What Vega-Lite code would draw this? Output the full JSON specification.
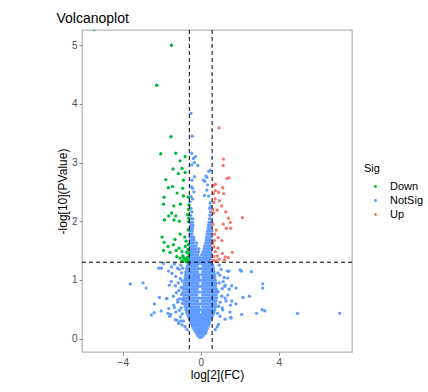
{
"$schema":"https://vega.github.io/schema/vega-lite/v6.json",
"width":270,"height":322,
"autosize":{"type":"none"},
"padding":{"left":82,"top":30,"right":76,"bottom":40},
"title":{"text":"Volcanoplot","anchor":"start","fontSize":14,"fontWeight":"normal","font":"Liberation Sans","color":"#000000","offset":4},
"config":{"view":{"stroke":"#b5b5b5","strokeWidth":1.3},"font":"Liberation Sans"},
"datasets":{
"pts":[
{"x":-0.06,"y":0.02,"Sig":"NotSig"},{"x":0.04,"y":0.02,"Sig":"NotSig"},
{"x":-0.15,"y":0.05,"Sig":"NotSig"},{"x":-0.05,"y":0.05,"Sig":"NotSig"},{"x":0.05,"y":0.05,"Sig":"NotSig"},{"x":0.14,"y":0.05,"Sig":"NotSig"},
{"x":-0.22,"y":0.09,"Sig":"NotSig"},{"x":-0.12,"y":0.09,"Sig":"NotSig"},{"x":-0.02,"y":0.09,"Sig":"NotSig"},{"x":0.08,"y":0.09,"Sig":"NotSig"},{"x":0.18,"y":0.09,"Sig":"NotSig"},{"x":0.25,"y":0.09,"Sig":"NotSig"},
{"x":-0.3,"y":0.13,"Sig":"NotSig"},{"x":-0.2,"y":0.13,"Sig":"NotSig"},{"x":-0.1,"y":0.13,"Sig":"NotSig"},{"x":0.0,"y":0.13,"Sig":"NotSig"},{"x":0.1,"y":0.13,"Sig":"NotSig"},{"x":0.2,"y":0.13,"Sig":"NotSig"},{"x":0.29,"y":0.13,"Sig":"NotSig"},
{"x":-0.36,"y":0.17,"Sig":"NotSig"},{"x":-0.26,"y":0.17,"Sig":"NotSig"},{"x":-0.16,"y":0.17,"Sig":"NotSig"},{"x":-0.06,"y":0.17,"Sig":"NotSig"},{"x":0.04,"y":0.17,"Sig":"NotSig"},{"x":0.14,"y":0.17,"Sig":"NotSig"},{"x":0.24,"y":0.17,"Sig":"NotSig"},{"x":0.34,"y":0.17,"Sig":"NotSig"},
{"x":-0.42,"y":0.21,"Sig":"NotSig"},{"x":-0.32,"y":0.21,"Sig":"NotSig"},{"x":-0.22,"y":0.21,"Sig":"NotSig"},{"x":-0.12,"y":0.21,"Sig":"NotSig"},{"x":-0.02,"y":0.21,"Sig":"NotSig"},{"x":0.08,"y":0.21,"Sig":"NotSig"},{"x":0.18,"y":0.21,"Sig":"NotSig"},{"x":0.28,"y":0.21,"Sig":"NotSig"},{"x":0.38,"y":0.21,"Sig":"NotSig"},
{"x":-0.48,"y":0.25,"Sig":"NotSig"},{"x":-0.38,"y":0.25,"Sig":"NotSig"},{"x":-0.28,"y":0.25,"Sig":"NotSig"},{"x":-0.18,"y":0.25,"Sig":"NotSig"},{"x":-0.08,"y":0.25,"Sig":"NotSig"},{"x":0.02,"y":0.25,"Sig":"NotSig"},{"x":0.12,"y":0.25,"Sig":"NotSig"},{"x":0.22,"y":0.25,"Sig":"NotSig"},{"x":0.32,"y":0.25,"Sig":"NotSig"},{"x":0.42,"y":0.25,"Sig":"NotSig"},
{"x":-0.52,"y":0.29,"Sig":"NotSig"},{"x":-0.42,"y":0.29,"Sig":"NotSig"},{"x":-0.32,"y":0.29,"Sig":"NotSig"},{"x":-0.22,"y":0.29,"Sig":"NotSig"},{"x":-0.12,"y":0.29,"Sig":"NotSig"},{"x":-0.03,"y":0.29,"Sig":"NotSig"},{"x":0.07,"y":0.29,"Sig":"NotSig"},{"x":0.17,"y":0.29,"Sig":"NotSig"},{"x":0.27,"y":0.29,"Sig":"NotSig"},{"x":0.37,"y":0.29,"Sig":"NotSig"},{"x":0.47,"y":0.29,"Sig":"NotSig"},
{"x":-0.58,"y":0.33,"Sig":"NotSig"},{"x":-0.48,"y":0.33,"Sig":"NotSig"},{"x":-0.38,"y":0.33,"Sig":"NotSig"},{"x":-0.28,"y":0.33,"Sig":"NotSig"},{"x":-0.18,"y":0.33,"Sig":"NotSig"},{"x":-0.08,"y":0.33,"Sig":"NotSig"},{"x":0.02,"y":0.33,"Sig":"NotSig"},{"x":0.12,"y":0.33,"Sig":"NotSig"},{"x":0.22,"y":0.33,"Sig":"NotSig"},{"x":0.32,"y":0.33,"Sig":"NotSig"},{"x":0.42,"y":0.33,"Sig":"NotSig"},{"x":0.52,"y":0.33,"Sig":"NotSig"},
{"x":-0.62,"y":0.37,"Sig":"NotSig"},{"x":-0.52,"y":0.37,"Sig":"NotSig"},{"x":-0.42,"y":0.37,"Sig":"NotSig"},{"x":-0.32,"y":0.37,"Sig":"NotSig"},{"x":-0.22,"y":0.37,"Sig":"NotSig"},{"x":-0.12,"y":0.37,"Sig":"NotSig"},{"x":-0.02,"y":0.37,"Sig":"NotSig"},{"x":0.08,"y":0.37,"Sig":"NotSig"},{"x":0.18,"y":0.37,"Sig":"NotSig"},{"x":0.28,"y":0.37,"Sig":"NotSig"},{"x":0.38,"y":0.37,"Sig":"NotSig"},{"x":0.48,"y":0.37,"Sig":"NotSig"},{"x":0.57,"y":0.37,"Sig":"NotSig"},
{"x":-0.68,"y":0.41,"Sig":"NotSig"},{"x":-0.57,"y":0.41,"Sig":"NotSig"},{"x":-0.47,"y":0.41,"Sig":"NotSig"},{"x":-0.37,"y":0.41,"Sig":"NotSig"},{"x":-0.27,"y":0.41,"Sig":"NotSig"},{"x":-0.17,"y":0.41,"Sig":"NotSig"},{"x":-0.07,"y":0.41,"Sig":"NotSig"},{"x":0.05,"y":0.41,"Sig":"NotSig"},{"x":0.15,"y":0.41,"Sig":"NotSig"},{"x":0.25,"y":0.41,"Sig":"NotSig"},{"x":0.35,"y":0.41,"Sig":"NotSig"},{"x":0.45,"y":0.41,"Sig":"NotSig"},{"x":0.55,"y":0.41,"Sig":"NotSig"},{"x":0.63,"y":0.41,"Sig":"NotSig"},
{"x":-0.72,"y":0.45,"Sig":"NotSig"},{"x":-0.62,"y":0.45,"Sig":"NotSig"},{"x":-0.52,"y":0.45,"Sig":"NotSig"},{"x":-0.42,"y":0.45,"Sig":"NotSig"},{"x":-0.32,"y":0.45,"Sig":"NotSig"},{"x":-0.22,"y":0.45,"Sig":"NotSig"},{"x":-0.12,"y":0.45,"Sig":"NotSig"},{"x":0.1,"y":0.45,"Sig":"NotSig"},{"x":0.2,"y":0.45,"Sig":"NotSig"},{"x":0.3,"y":0.45,"Sig":"NotSig"},{"x":0.4,"y":0.45,"Sig":"NotSig"},{"x":0.5,"y":0.45,"Sig":"NotSig"},{"x":0.6,"y":0.45,"Sig":"NotSig"},{"x":0.68,"y":0.45,"Sig":"NotSig"},
{"x":-0.76,"y":0.49,"Sig":"NotSig"},{"x":-0.66,"y":0.49,"Sig":"NotSig"},{"x":-0.56,"y":0.49,"Sig":"NotSig"},{"x":-0.46,"y":0.49,"Sig":"NotSig"},{"x":-0.36,"y":0.49,"Sig":"NotSig"},{"x":-0.26,"y":0.49,"Sig":"NotSig"},{"x":-0.16,"y":0.49,"Sig":"NotSig"},{"x":-0.06,"y":0.49,"Sig":"NotSig"},{"x":0.04,"y":0.49,"Sig":"NotSig"},{"x":0.14,"y":0.49,"Sig":"NotSig"},{"x":0.24,"y":0.49,"Sig":"NotSig"},{"x":0.34,"y":0.49,"Sig":"NotSig"},{"x":0.44,"y":0.49,"Sig":"NotSig"},{"x":0.54,"y":0.49,"Sig":"NotSig"},{"x":0.64,"y":0.49,"Sig":"NotSig"},{"x":0.72,"y":0.49,"Sig":"NotSig"},
{"x":-0.8,"y":0.54,"Sig":"NotSig"},{"x":-0.7,"y":0.54,"Sig":"NotSig"},{"x":-0.6,"y":0.54,"Sig":"NotSig"},{"x":-0.5,"y":0.54,"Sig":"NotSig"},{"x":-0.4,"y":0.54,"Sig":"NotSig"},{"x":-0.3,"y":0.54,"Sig":"NotSig"},{"x":-0.2,"y":0.54,"Sig":"NotSig"},{"x":-0.1,"y":0.54,"Sig":"NotSig"},{"x":0.1,"y":0.54,"Sig":"NotSig"},{"x":0.2,"y":0.54,"Sig":"NotSig"},{"x":0.3,"y":0.54,"Sig":"NotSig"},{"x":0.4,"y":0.54,"Sig":"NotSig"},{"x":0.5,"y":0.54,"Sig":"NotSig"},{"x":0.6,"y":0.54,"Sig":"NotSig"},{"x":0.7,"y":0.54,"Sig":"NotSig"},{"x":0.77,"y":0.54,"Sig":"NotSig"},
{"x":-0.84,"y":0.59,"Sig":"NotSig"},{"x":-0.74,"y":0.59,"Sig":"NotSig"},{"x":-0.64,"y":0.59,"Sig":"NotSig"},{"x":-0.54,"y":0.59,"Sig":"NotSig"},{"x":-0.44,"y":0.59,"Sig":"NotSig"},{"x":-0.34,"y":0.59,"Sig":"NotSig"},{"x":-0.24,"y":0.59,"Sig":"NotSig"},{"x":-0.14,"y":0.59,"Sig":"NotSig"},{"x":-0.04,"y":0.59,"Sig":"NotSig"},{"x":0.06,"y":0.59,"Sig":"NotSig"},{"x":0.16,"y":0.59,"Sig":"NotSig"},{"x":0.26,"y":0.59,"Sig":"NotSig"},{"x":0.36,"y":0.59,"Sig":"NotSig"},{"x":0.46,"y":0.59,"Sig":"NotSig"},{"x":0.56,"y":0.59,"Sig":"NotSig"},{"x":0.66,"y":0.59,"Sig":"NotSig"},{"x":0.76,"y":0.59,"Sig":"NotSig"},
{"x":-0.86,"y":0.64,"Sig":"NotSig"},{"x":-0.76,"y":0.64,"Sig":"NotSig"},{"x":-0.66,"y":0.64,"Sig":"NotSig"},{"x":-0.56,"y":0.64,"Sig":"NotSig"},{"x":-0.46,"y":0.64,"Sig":"NotSig"},{"x":-0.36,"y":0.64,"Sig":"NotSig"},{"x":-0.26,"y":0.64,"Sig":"NotSig"},{"x":-0.16,"y":0.64,"Sig":"NotSig"},{"x":0.08,"y":0.64,"Sig":"NotSig"},{"x":0.18,"y":0.64,"Sig":"NotSig"},{"x":0.28,"y":0.64,"Sig":"NotSig"},{"x":0.38,"y":0.64,"Sig":"NotSig"},{"x":0.48,"y":0.64,"Sig":"NotSig"},{"x":0.58,"y":0.64,"Sig":"NotSig"},{"x":0.68,"y":0.64,"Sig":"NotSig"},{"x":0.78,"y":0.64,"Sig":"NotSig"},
{"x":-0.88,"y":0.69,"Sig":"NotSig"},{"x":-0.78,"y":0.69,"Sig":"NotSig"},{"x":-0.68,"y":0.69,"Sig":"NotSig"},{"x":-0.58,"y":0.69,"Sig":"NotSig"},{"x":-0.48,"y":0.69,"Sig":"NotSig"},{"x":-0.38,"y":0.69,"Sig":"NotSig"},{"x":-0.28,"y":0.69,"Sig":"NotSig"},{"x":-0.18,"y":0.69,"Sig":"NotSig"},{"x":-0.08,"y":0.69,"Sig":"NotSig"},{"x":0.03,"y":0.69,"Sig":"NotSig"},{"x":0.13,"y":0.69,"Sig":"NotSig"},{"x":0.23,"y":0.69,"Sig":"NotSig"},{"x":0.33,"y":0.69,"Sig":"NotSig"},{"x":0.43,"y":0.69,"Sig":"NotSig"},{"x":0.53,"y":0.69,"Sig":"NotSig"},{"x":0.63,"y":0.69,"Sig":"NotSig"},{"x":0.73,"y":0.69,"Sig":"NotSig"},{"x":0.82,"y":0.69,"Sig":"NotSig"},
{"x":-0.9,"y":0.74,"Sig":"NotSig"},{"x":-0.8,"y":0.74,"Sig":"NotSig"},{"x":-0.7,"y":0.74,"Sig":"NotSig"},{"x":-0.6,"y":0.74,"Sig":"NotSig"},{"x":-0.5,"y":0.74,"Sig":"NotSig"},{"x":-0.4,"y":0.74,"Sig":"NotSig"},{"x":-0.3,"y":0.74,"Sig":"NotSig"},{"x":-0.2,"y":0.74,"Sig":"NotSig"},{"x":0.1,"y":0.74,"Sig":"NotSig"},{"x":0.2,"y":0.74,"Sig":"NotSig"},{"x":0.3,"y":0.74,"Sig":"NotSig"},{"x":0.4,"y":0.74,"Sig":"NotSig"},{"x":0.5,"y":0.74,"Sig":"NotSig"},{"x":0.6,"y":0.74,"Sig":"NotSig"},{"x":0.7,"y":0.74,"Sig":"NotSig"},{"x":0.8,"y":0.74,"Sig":"NotSig"},
{"x":-0.9,"y":0.79,"Sig":"NotSig"},{"x":-0.8,"y":0.79,"Sig":"NotSig"},{"x":-0.7,"y":0.79,"Sig":"NotSig"},{"x":-0.6,"y":0.79,"Sig":"NotSig"},{"x":-0.5,"y":0.79,"Sig":"NotSig"},{"x":-0.4,"y":0.79,"Sig":"NotSig"},{"x":-0.3,"y":0.79,"Sig":"NotSig"},{"x":-0.2,"y":0.79,"Sig":"NotSig"},{"x":-0.1,"y":0.79,"Sig":"NotSig"},{"x":0.05,"y":0.79,"Sig":"NotSig"},{"x":0.15,"y":0.79,"Sig":"NotSig"},{"x":0.25,"y":0.79,"Sig":"NotSig"},{"x":0.35,"y":0.79,"Sig":"NotSig"},{"x":0.45,"y":0.79,"Sig":"NotSig"},{"x":0.55,"y":0.79,"Sig":"NotSig"},{"x":0.65,"y":0.79,"Sig":"NotSig"},{"x":0.75,"y":0.79,"Sig":"NotSig"},{"x":0.84,"y":0.79,"Sig":"NotSig"},
{"x":-0.88,"y":0.84,"Sig":"NotSig"},{"x":-0.78,"y":0.84,"Sig":"NotSig"},{"x":-0.68,"y":0.84,"Sig":"NotSig"},{"x":-0.58,"y":0.84,"Sig":"NotSig"},{"x":-0.48,"y":0.84,"Sig":"NotSig"},{"x":-0.38,"y":0.84,"Sig":"NotSig"},{"x":-0.28,"y":0.84,"Sig":"NotSig"},{"x":-0.18,"y":0.84,"Sig":"NotSig"},{"x":0.12,"y":0.84,"Sig":"NotSig"},{"x":0.22,"y":0.84,"Sig":"NotSig"},{"x":0.32,"y":0.84,"Sig":"NotSig"},{"x":0.42,"y":0.84,"Sig":"NotSig"},{"x":0.52,"y":0.84,"Sig":"NotSig"},{"x":0.62,"y":0.84,"Sig":"NotSig"},{"x":0.72,"y":0.84,"Sig":"NotSig"},{"x":0.8,"y":0.84,"Sig":"NotSig"},
{"x":-0.86,"y":0.89,"Sig":"NotSig"},{"x":-0.76,"y":0.89,"Sig":"NotSig"},{"x":-0.66,"y":0.89,"Sig":"NotSig"},{"x":-0.56,"y":0.89,"Sig":"NotSig"},{"x":-0.46,"y":0.89,"Sig":"NotSig"},{"x":-0.36,"y":0.89,"Sig":"NotSig"},{"x":-0.26,"y":0.89,"Sig":"NotSig"},{"x":-0.16,"y":0.89,"Sig":"NotSig"},{"x":-0.06,"y":0.89,"Sig":"NotSig"},{"x":0.06,"y":0.89,"Sig":"NotSig"},{"x":0.16,"y":0.89,"Sig":"NotSig"},{"x":0.26,"y":0.89,"Sig":"NotSig"},{"x":0.36,"y":0.89,"Sig":"NotSig"},{"x":0.46,"y":0.89,"Sig":"NotSig"},{"x":0.56,"y":0.89,"Sig":"NotSig"},{"x":0.66,"y":0.89,"Sig":"NotSig"},{"x":0.76,"y":0.89,"Sig":"NotSig"},
{"x":-0.84,"y":0.94,"Sig":"NotSig"},{"x":-0.74,"y":0.94,"Sig":"NotSig"},{"x":-0.64,"y":0.94,"Sig":"NotSig"},{"x":-0.54,"y":0.94,"Sig":"NotSig"},{"x":-0.44,"y":0.94,"Sig":"NotSig"},{"x":-0.34,"y":0.94,"Sig":"NotSig"},{"x":-0.24,"y":0.94,"Sig":"NotSig"},{"x":-0.14,"y":0.94,"Sig":"NotSig"},{"x":0.1,"y":0.94,"Sig":"NotSig"},{"x":0.2,"y":0.94,"Sig":"NotSig"},{"x":0.3,"y":0.94,"Sig":"NotSig"},{"x":0.4,"y":0.94,"Sig":"NotSig"},{"x":0.5,"y":0.94,"Sig":"NotSig"},{"x":0.6,"y":0.94,"Sig":"NotSig"},{"x":0.7,"y":0.94,"Sig":"NotSig"},{"x":0.78,"y":0.94,"Sig":"NotSig"},
{"x":-0.82,"y":0.99,"Sig":"NotSig"},{"x":-0.72,"y":0.99,"Sig":"NotSig"},{"x":-0.62,"y":0.99,"Sig":"NotSig"},{"x":-0.52,"y":0.99,"Sig":"NotSig"},{"x":-0.42,"y":0.99,"Sig":"NotSig"},{"x":-0.32,"y":0.99,"Sig":"NotSig"},{"x":-0.22,"y":0.99,"Sig":"NotSig"},{"x":-0.12,"y":0.99,"Sig":"NotSig"},{"x":-0.03,"y":0.99,"Sig":"NotSig"},{"x":0.07,"y":0.99,"Sig":"NotSig"},{"x":0.17,"y":0.99,"Sig":"NotSig"},{"x":0.27,"y":0.99,"Sig":"NotSig"},{"x":0.37,"y":0.99,"Sig":"NotSig"},{"x":0.47,"y":0.99,"Sig":"NotSig"},{"x":0.57,"y":0.99,"Sig":"NotSig"},{"x":0.67,"y":0.99,"Sig":"NotSig"},{"x":0.75,"y":0.99,"Sig":"NotSig"},
{"x":-0.8,"y":1.04,"Sig":"NotSig"},{"x":-0.7,"y":1.04,"Sig":"NotSig"},{"x":-0.6,"y":1.04,"Sig":"NotSig"},{"x":-0.5,"y":1.04,"Sig":"NotSig"},{"x":-0.4,"y":1.04,"Sig":"NotSig"},{"x":-0.3,"y":1.04,"Sig":"NotSig"},{"x":-0.2,"y":1.04,"Sig":"NotSig"},{"x":-0.1,"y":1.04,"Sig":"NotSig"},{"x":0.12,"y":1.04,"Sig":"NotSig"},{"x":0.22,"y":1.04,"Sig":"NotSig"},{"x":0.32,"y":1.04,"Sig":"NotSig"},{"x":0.42,"y":1.04,"Sig":"NotSig"},{"x":0.52,"y":1.04,"Sig":"NotSig"},{"x":0.62,"y":1.04,"Sig":"NotSig"},{"x":0.72,"y":1.04,"Sig":"NotSig"},
{"x":-0.78,"y":1.09,"Sig":"NotSig"},{"x":-0.68,"y":1.09,"Sig":"NotSig"},{"x":-0.58,"y":1.09,"Sig":"NotSig"},{"x":-0.48,"y":1.09,"Sig":"NotSig"},{"x":-0.38,"y":1.09,"Sig":"NotSig"},{"x":-0.28,"y":1.09,"Sig":"NotSig"},{"x":-0.18,"y":1.09,"Sig":"NotSig"},{"x":-0.08,"y":1.09,"Sig":"NotSig"},{"x":0.05,"y":1.09,"Sig":"NotSig"},{"x":0.15,"y":1.09,"Sig":"NotSig"},{"x":0.25,"y":1.09,"Sig":"NotSig"},{"x":0.35,"y":1.09,"Sig":"NotSig"},{"x":0.45,"y":1.09,"Sig":"NotSig"},{"x":0.55,"y":1.09,"Sig":"NotSig"},{"x":0.65,"y":1.09,"Sig":"NotSig"},{"x":0.72,"y":1.09,"Sig":"NotSig"},
{"x":-0.76,"y":1.14,"Sig":"NotSig"},{"x":-0.66,"y":1.14,"Sig":"NotSig"},{"x":-0.56,"y":1.14,"Sig":"NotSig"},{"x":-0.46,"y":1.14,"Sig":"NotSig"},{"x":-0.36,"y":1.14,"Sig":"NotSig"},{"x":-0.26,"y":1.14,"Sig":"NotSig"},{"x":-0.16,"y":1.14,"Sig":"NotSig"},{"x":0.1,"y":1.14,"Sig":"NotSig"},{"x":0.2,"y":1.14,"Sig":"NotSig"},{"x":0.3,"y":1.14,"Sig":"NotSig"},{"x":0.4,"y":1.14,"Sig":"NotSig"},{"x":0.5,"y":1.14,"Sig":"NotSig"},{"x":0.6,"y":1.14,"Sig":"NotSig"},{"x":0.68,"y":1.14,"Sig":"NotSig"},
{"x":-0.72,"y":1.19,"Sig":"NotSig"},{"x":-0.62,"y":1.19,"Sig":"NotSig"},{"x":-0.52,"y":1.19,"Sig":"NotSig"},{"x":-0.42,"y":1.19,"Sig":"NotSig"},{"x":-0.32,"y":1.19,"Sig":"NotSig"},{"x":-0.22,"y":1.19,"Sig":"NotSig"},{"x":-0.12,"y":1.19,"Sig":"NotSig"},{"x":-0.02,"y":1.19,"Sig":"NotSig"},{"x":0.08,"y":1.19,"Sig":"NotSig"},{"x":0.18,"y":1.19,"Sig":"NotSig"},{"x":0.28,"y":1.19,"Sig":"NotSig"},{"x":0.38,"y":1.19,"Sig":"NotSig"},{"x":0.48,"y":1.19,"Sig":"NotSig"},{"x":0.58,"y":1.19,"Sig":"NotSig"},{"x":0.66,"y":1.19,"Sig":"NotSig"},
{"x":-0.68,"y":1.24,"Sig":"NotSig"},{"x":-0.58,"y":1.24,"Sig":"NotSig"},{"x":-0.48,"y":1.24,"Sig":"NotSig"},{"x":-0.38,"y":1.24,"Sig":"NotSig"},{"x":-0.28,"y":1.24,"Sig":"NotSig"},{"x":-0.18,"y":1.24,"Sig":"NotSig"},{"x":0.12,"y":1.24,"Sig":"NotSig"},{"x":0.22,"y":1.24,"Sig":"NotSig"},{"x":0.32,"y":1.24,"Sig":"NotSig"},{"x":0.42,"y":1.24,"Sig":"NotSig"},{"x":0.52,"y":1.24,"Sig":"NotSig"},{"x":0.62,"y":1.24,"Sig":"NotSig"},
{"x":-0.64,"y":1.28,"Sig":"NotSig"},{"x":-0.54,"y":1.28,"Sig":"NotSig"},{"x":-0.44,"y":1.28,"Sig":"NotSig"},{"x":-0.34,"y":1.28,"Sig":"NotSig"},{"x":-0.24,"y":1.28,"Sig":"NotSig"},{"x":-0.14,"y":1.28,"Sig":"NotSig"},{"x":-0.04,"y":1.28,"Sig":"NotSig"},{"x":0.06,"y":1.28,"Sig":"NotSig"},{"x":0.16,"y":1.28,"Sig":"NotSig"},{"x":0.26,"y":1.28,"Sig":"NotSig"},{"x":0.36,"y":1.28,"Sig":"NotSig"},{"x":0.46,"y":1.28,"Sig":"NotSig"},{"x":0.56,"y":1.28,"Sig":"NotSig"},
{"x":-0.55,"y":1.33,"Sig":"NotSig"},{"x":-0.45,"y":1.33,"Sig":"NotSig"},{"x":-0.35,"y":1.33,"Sig":"NotSig"},{"x":-0.25,"y":1.33,"Sig":"NotSig"},{"x":-0.15,"y":1.33,"Sig":"NotSig"},{"x":-0.05,"y":1.33,"Sig":"NotSig"},{"x":0.05,"y":1.33,"Sig":"NotSig"},{"x":0.15,"y":1.33,"Sig":"NotSig"},{"x":0.25,"y":1.33,"Sig":"NotSig"},{"x":0.35,"y":1.33,"Sig":"NotSig"},{"x":0.45,"y":1.33,"Sig":"NotSig"},{"x":0.55,"y":1.33,"Sig":"NotSig"},
{"x":-0.56,"y":1.38,"Sig":"NotSig"},{"x":-0.46,"y":1.38,"Sig":"NotSig"},{"x":-0.36,"y":1.38,"Sig":"NotSig"},{"x":-0.26,"y":1.38,"Sig":"NotSig"},{"x":-0.16,"y":1.38,"Sig":"NotSig"},{"x":-0.06,"y":1.38,"Sig":"NotSig"},{"x":0.1,"y":1.38,"Sig":"NotSig"},{"x":0.2,"y":1.38,"Sig":"NotSig"},{"x":0.3,"y":1.38,"Sig":"NotSig"},{"x":0.4,"y":1.38,"Sig":"NotSig"},{"x":0.5,"y":1.38,"Sig":"NotSig"},
{"x":-0.55,"y":1.43,"Sig":"NotSig"},{"x":-0.45,"y":1.43,"Sig":"NotSig"},{"x":-0.35,"y":1.43,"Sig":"NotSig"},{"x":-0.25,"y":1.43,"Sig":"NotSig"},{"x":-0.15,"y":1.43,"Sig":"NotSig"},{"x":0.05,"y":1.43,"Sig":"NotSig"},{"x":0.15,"y":1.43,"Sig":"NotSig"},{"x":0.25,"y":1.43,"Sig":"NotSig"},{"x":0.35,"y":1.43,"Sig":"NotSig"},{"x":0.45,"y":1.43,"Sig":"NotSig"},{"x":0.55,"y":1.43,"Sig":"NotSig"},
{"x":-0.56,"y":1.48,"Sig":"NotSig"},{"x":-0.46,"y":1.48,"Sig":"NotSig"},{"x":-0.36,"y":1.48,"Sig":"NotSig"},{"x":-0.26,"y":1.48,"Sig":"NotSig"},{"x":-0.12,"y":1.48,"Sig":"NotSig"},{"x":0.12,"y":1.48,"Sig":"NotSig"},{"x":0.22,"y":1.48,"Sig":"NotSig"},{"x":0.32,"y":1.48,"Sig":"NotSig"},{"x":0.42,"y":1.48,"Sig":"NotSig"},{"x":0.52,"y":1.48,"Sig":"NotSig"},
{"x":-0.55,"y":1.53,"Sig":"NotSig"},{"x":-0.45,"y":1.53,"Sig":"NotSig"},{"x":-0.35,"y":1.53,"Sig":"NotSig"},{"x":-0.25,"y":1.53,"Sig":"NotSig"},{"x":-0.1,"y":1.53,"Sig":"NotSig"},{"x":0.18,"y":1.53,"Sig":"NotSig"},{"x":0.28,"y":1.53,"Sig":"NotSig"},{"x":0.38,"y":1.53,"Sig":"NotSig"},{"x":0.48,"y":1.53,"Sig":"NotSig"},{"x":0.56,"y":1.53,"Sig":"NotSig"},
{"x":-0.56,"y":1.58,"Sig":"NotSig"},{"x":-0.46,"y":1.58,"Sig":"NotSig"},{"x":-0.36,"y":1.58,"Sig":"NotSig"},{"x":-0.24,"y":1.58,"Sig":"NotSig"},{"x":0.2,"y":1.58,"Sig":"NotSig"},{"x":0.3,"y":1.58,"Sig":"NotSig"},{"x":0.4,"y":1.58,"Sig":"NotSig"},{"x":0.5,"y":1.58,"Sig":"NotSig"},
{"x":-0.55,"y":1.63,"Sig":"NotSig"},{"x":-0.45,"y":1.63,"Sig":"NotSig"},{"x":-0.35,"y":1.63,"Sig":"NotSig"},{"x":-0.2,"y":1.63,"Sig":"NotSig"},{"x":0.25,"y":1.63,"Sig":"NotSig"},{"x":0.35,"y":1.63,"Sig":"NotSig"},{"x":0.45,"y":1.63,"Sig":"NotSig"},{"x":0.55,"y":1.63,"Sig":"NotSig"},
{"x":-0.54,"y":1.68,"Sig":"NotSig"},{"x":-0.44,"y":1.68,"Sig":"NotSig"},{"x":-0.34,"y":1.68,"Sig":"NotSig"},{"x":0.28,"y":1.68,"Sig":"NotSig"},{"x":0.38,"y":1.68,"Sig":"NotSig"},{"x":0.48,"y":1.68,"Sig":"NotSig"},{"x":0.56,"y":1.68,"Sig":"NotSig"},
{"x":-0.55,"y":1.73,"Sig":"NotSig"},{"x":-0.45,"y":1.73,"Sig":"NotSig"},{"x":-0.35,"y":1.73,"Sig":"NotSig"},{"x":0.3,"y":1.73,"Sig":"NotSig"},{"x":0.4,"y":1.73,"Sig":"NotSig"},{"x":0.5,"y":1.73,"Sig":"NotSig"},
{"x":-0.54,"y":1.78,"Sig":"NotSig"},{"x":-0.44,"y":1.78,"Sig":"NotSig"},{"x":0.32,"y":1.78,"Sig":"NotSig"},{"x":0.42,"y":1.78,"Sig":"NotSig"},{"x":0.52,"y":1.78,"Sig":"NotSig"},
{"x":-0.53,"y":1.83,"Sig":"NotSig"},{"x":-0.43,"y":1.83,"Sig":"NotSig"},{"x":0.35,"y":1.83,"Sig":"NotSig"},{"x":0.45,"y":1.83,"Sig":"NotSig"},{"x":0.55,"y":1.83,"Sig":"NotSig"},
{"x":-0.52,"y":1.88,"Sig":"NotSig"},{"x":-0.42,"y":1.88,"Sig":"NotSig"},{"x":0.38,"y":1.88,"Sig":"NotSig"},{"x":0.48,"y":1.88,"Sig":"NotSig"},
{"x":-0.5,"y":1.93,"Sig":"NotSig"},{"x":-0.4,"y":1.93,"Sig":"NotSig"},{"x":0.4,"y":1.93,"Sig":"NotSig"},{"x":0.5,"y":1.93,"Sig":"NotSig"},
{"x":-0.52,"y":1.98,"Sig":"NotSig"},{"x":-0.42,"y":1.98,"Sig":"NotSig"},{"x":0.42,"y":1.98,"Sig":"NotSig"},{"x":0.52,"y":1.98,"Sig":"NotSig"},
{"x":-0.5,"y":2.04,"Sig":"NotSig"},{"x":-0.4,"y":2.04,"Sig":"NotSig"},{"x":0.45,"y":2.04,"Sig":"NotSig"},{"x":0.55,"y":2.04,"Sig":"NotSig"},
{"x":-0.52,"y":2.1,"Sig":"NotSig"},{"x":0.48,"y":2.1,"Sig":"NotSig"},{"x":-0.45,"y":2.16,"Sig":"NotSig"},{"x":0.5,"y":2.16,"Sig":"NotSig"},{"x":-0.5,"y":2.22,"Sig":"NotSig"},{"x":0.45,"y":2.22,"Sig":"NotSig"},
{"x":-0.50,"y":3.84,"Sig":"NotSig"},{"x":-0.44,"y":3.45,"Sig":"NotSig"},{"x":-0.46,"y":3.16,"Sig":"NotSig"},{"x":-0.38,"y":3.07,"Sig":"NotSig"},{"x":-0.27,"y":3.10,"Sig":"NotSig"},{"x":-0.33,"y":3.0,"Sig":"NotSig"},{"x":-0.15,"y":2.95,"Sig":"NotSig"},{"x":-0.46,"y":2.96,"Sig":"NotSig"},{"x":0.50,"y":2.87,"Sig":"NotSig"},{"x":0.41,"y":2.85,"Sig":"NotSig"},{"x":-0.32,"y":2.76,"Sig":"NotSig"},{"x":0.15,"y":2.70,"Sig":"NotSig"},{"x":0.21,"y":2.68,"Sig":"NotSig"},{"x":0.31,"y":2.75,"Sig":"NotSig"},{"x":0.27,"y":2.77,"Sig":"NotSig"},{"x":-0.48,"y":2.59,"Sig":"NotSig"},{"x":-0.41,"y":2.56,"Sig":"NotSig"},{"x":0.31,"y":2.53,"Sig":"NotSig"},{"x":0.19,"y":2.44,"Sig":"NotSig"},{"x":0.41,"y":2.43,"Sig":"NotSig"},{"x":-0.5,"y":2.42,"Sig":"NotSig"},{"x":-0.42,"y":2.38,"Sig":"NotSig"},{"x":0.48,"y":2.31,"Sig":"NotSig"},{"x":-0.55,"y":2.33,"Sig":"NotSig"},{"x":0.52,"y":2.25,"Sig":"NotSig"},{"x":-0.35,"y":2.5,"Sig":"NotSig"},{"x":0.36,"y":2.62,"Sig":"NotSig"},{"x":-0.45,"y":2.7,"Sig":"NotSig"},
{"x":-1.02,"y":1.25,"Sig":"NotSig"},{"x":-1.1,"y":1.18,"Sig":"NotSig"},{"x":-0.98,"y":1.12,"Sig":"NotSig"},{"x":-1.2,"y":1.2,"Sig":"NotSig"},{"x":-1.35,"y":1.27,"Sig":"NotSig"},{"x":-1.5,"y":1.22,"Sig":"NotSig"},{"x":-1.65,"y":1.15,"Sig":"NotSig"},{"x":-2.02,"y":1.2,"Sig":"NotSig"},{"x":-1.91,"y":1.28,"Sig":"NotSig"},{"x":-1.47,"y":1.11,"Sig":"NotSig"},{"x":-1.28,"y":1.06,"Sig":"NotSig"},{"x":-1.05,"y":1.02,"Sig":"NotSig"},{"x":-0.95,"y":0.98,"Sig":"NotSig"},{"x":-1.15,"y":0.95,"Sig":"NotSig"},{"x":-1.51,"y":0.97,"Sig":"NotSig"},{"x":-1.61,"y":0.91,"Sig":"NotSig"},{"x":-1.3,"y":0.9,"Sig":"NotSig"},{"x":-1.0,"y":0.87,"Sig":"NotSig"},{"x":-1.12,"y":0.82,"Sig":"NotSig"},{"x":-1.25,"y":0.78,"Sig":"NotSig"},{"x":-0.98,"y":0.75,"Sig":"NotSig"},{"x":-1.4,"y":0.72,"Sig":"NotSig"},{"x":-1.76,"y":0.68,"Sig":"NotSig"},{"x":-1.08,"y":0.68,"Sig":"NotSig"},{"x":-1.18,"y":0.62,"Sig":"NotSig"},{"x":-0.95,"y":0.6,"Sig":"NotSig"},{"x":-1.39,"y":0.57,"Sig":"NotSig"},{"x":-1.0,"y":0.52,"Sig":"NotSig"},{"x":-1.1,"y":0.48,"Sig":"NotSig"},{"x":-1.28,"y":0.45,"Sig":"NotSig"},{"x":-1.68,"y":0.43,"Sig":"NotSig"},{"x":-1.59,"y":0.38,"Sig":"NotSig"},{"x":-0.95,"y":0.42,"Sig":"NotSig"},{"x":-1.05,"y":0.37,"Sig":"NotSig"},{"x":-1.3,"y":0.32,"Sig":"NotSig"},{"x":-1.13,"y":0.26,"Sig":"NotSig"},{"x":-0.96,"y":0.23,"Sig":"NotSig"},{"x":-0.88,"y":0.3,"Sig":"NotSig"},{"x":-0.8,"y":0.2,"Sig":"NotSig"},{"x":-0.7,"y":0.15,"Sig":"NotSig"},{"x":-2.12,"y":0.7,"Sig":"NotSig"},{"x":-2.38,"y":0.59,"Sig":"NotSig"},{"x":-2.53,"y":0.4,"Sig":"NotSig"},{"x":-2.03,"y":0.47,"Sig":"NotSig"},{"x":-2.96,"y":0.95,"Sig":"NotSig"},{"x":-2.8,"y":0.86,"Sig":"NotSig"},{"x":-3.61,"y":0.93,"Sig":"NotSig"},{"x":-2.15,"y":1.2,"Sig":"NotSig"},{"x":-1.35,"y":0.53,"Sig":"NotSig"},{"x":-1.21,"y":0.31,"Sig":"NotSig"},{"x":-1.18,"y":0.66,"Sig":"NotSig"},{"x":-1.73,"y":0.68,"Sig":"NotSig"},{"x":-1.54,"y":0.41,"Sig":"NotSig"},{"x":-2.39,"y":0.44,"Sig":"NotSig"},{"x":-1.64,"y":0.51,"Sig":"NotSig"},{"x":-0.92,"y":1.2,"Sig":"NotSig"},{"x":-0.94,"y":0.67,"Sig":"NotSig"},{"x":-1.02,"y":0.3,"Sig":"NotSig"},
{"x":0.95,"y":1.25,"Sig":"NotSig"},{"x":1.05,"y":1.18,"Sig":"NotSig"},{"x":1.37,"y":1.15,"Sig":"NotSig"},{"x":1.45,"y":1.15,"Sig":"NotSig"},{"x":2.02,"y":1.17,"Sig":"NotSig"},{"x":2.6,"y":1.14,"Sig":"NotSig"},{"x":2.09,"y":1.15,"Sig":"NotSig"},{"x":1.2,"y":1.04,"Sig":"NotSig"},{"x":1.38,"y":1.03,"Sig":"NotSig"},{"x":0.98,"y":1.08,"Sig":"NotSig"},{"x":1.25,"y":0.91,"Sig":"NotSig"},{"x":1.59,"y":0.9,"Sig":"NotSig"},{"x":1.81,"y":0.86,"Sig":"NotSig"},{"x":3.18,"y":0.93,"Sig":"NotSig"},{"x":3.18,"y":0.86,"Sig":"NotSig"},{"x":2.17,"y":0.7,"Sig":"NotSig"},{"x":2.5,"y":0.72,"Sig":"NotSig"},{"x":1.08,"y":0.72,"Sig":"NotSig"},{"x":1.25,"y":0.69,"Sig":"NotSig"},{"x":1.39,"y":0.74,"Sig":"NotSig"},{"x":1.59,"y":0.64,"Sig":"NotSig"},{"x":1.81,"y":0.59,"Sig":"NotSig"},{"x":1.3,"y":0.64,"Sig":"NotSig"},{"x":1.13,"y":0.49,"Sig":"NotSig"},{"x":1.5,"y":0.45,"Sig":"NotSig"},{"x":2.1,"y":0.41,"Sig":"NotSig"},{"x":2.86,"y":0.43,"Sig":"NotSig"},{"x":3.15,"y":0.49,"Sig":"NotSig"},{"x":3.29,"y":0.47,"Sig":"NotSig"},{"x":4.96,"y":0.43,"Sig":"NotSig"},{"x":7.13,"y":0.43,"Sig":"NotSig"},{"x":0.99,"y":0.38,"Sig":"NotSig"},{"x":1.25,"y":0.33,"Sig":"NotSig"},{"x":1.56,"y":0.35,"Sig":"NotSig"},{"x":0.91,"y":0.24,"Sig":"NotSig"},{"x":0.95,"y":0.95,"Sig":"NotSig"},{"x":1.1,"y":0.85,"Sig":"NotSig"},{"x":0.92,"y":0.55,"Sig":"NotSig"},{"x":1.0,"y":0.62,"Sig":"NotSig"},{"x":1.15,"y":0.97,"Sig":"NotSig"},{"x":0.88,"y":1.12,"Sig":"NotSig"},{"x":1.46,"y":0.84,"Sig":"NotSig"},{"x":1.53,"y":0.57,"Sig":"NotSig"},{"x":1.53,"y":0.36,"Sig":"NotSig"},{"x":1.11,"y":0.52,"Sig":"NotSig"},{"x":0.85,"y":0.2,"Sig":"NotSig"},{"x":0.75,"y":0.15,"Sig":"NotSig"},{"x":0.9,"y":0.8,"Sig":"NotSig"},{"x":0.86,"y":0.43,"Sig":"NotSig"},{"x":1.23,"y":0.89,"Sig":"NotSig"},
{"x":-5.46,"y":5.27,"Sig":"Down"},{"x":-1.50,"y":5.00,"Sig":"Down"},{"x":-2.26,"y":4.32,"Sig":"Down"},{"x":-1.52,"y":3.44,"Sig":"Down"},{"x":-2.05,"y":3.15,"Sig":"Down"},{"x":-1.28,"y":3.16,"Sig":"Down"},{"x":-0.80,"y":3.10,"Sig":"Down"},{"x":-1.06,"y":3.03,"Sig":"Down"},{"x":-1.42,"y":2.89,"Sig":"Down"},{"x":-0.96,"y":2.90,"Sig":"Down"},{"x":-0.80,"y":2.83,"Sig":"Down"},{"x":-1.15,"y":2.81,"Sig":"Down"},{"x":-1.79,"y":2.71,"Sig":"Down"},{"x":-0.89,"y":2.70,"Sig":"Down"},{"x":-1.44,"y":2.59,"Sig":"Down"},{"x":-1.66,"y":2.57,"Sig":"Down"},{"x":-0.92,"y":2.56,"Sig":"Down"},{"x":-1.21,"y":2.48,"Sig":"Down"},{"x":-1.88,"y":2.41,"Sig":"Down"},{"x":-0.89,"y":2.43,"Sig":"Down"},{"x":-0.63,"y":2.41,"Sig":"Down"},{"x":-1.91,"y":2.29,"Sig":"Down"},{"x":-1.04,"y":2.29,"Sig":"Down"},{"x":-0.60,"y":2.28,"Sig":"Down"},{"x":-1.38,"y":2.26,"Sig":"Down"},{"x":-1.50,"y":2.14,"Sig":"Down"},{"x":-1.64,"y":2.09,"Sig":"Down"},{"x":-1.28,"y":2.09,"Sig":"Down"},{"x":-1.86,"y":2.02,"Sig":"Down"},{"x":-1.37,"y":2.02,"Sig":"Down"},{"x":-1.10,"y":2.00,"Sig":"Down"},{"x":-0.68,"y":2.11,"Sig":"Down"},{"x":-0.62,"y":1.99,"Sig":"Down"},{"x":-1.98,"y":1.73,"Sig":"Down"},{"x":-1.06,"y":1.78,"Sig":"Down"},{"x":-1.32,"y":1.69,"Sig":"Down"},{"x":-0.82,"y":1.73,"Sig":"Down"},{"x":-0.75,"y":1.66,"Sig":"Down"},{"x":-1.88,"y":1.64,"Sig":"Down"},{"x":-1.68,"y":1.57,"Sig":"Down"},{"x":-1.40,"y":1.60,"Sig":"Down"},{"x":-1.11,"y":1.54,"Sig":"Down"},{"x":-0.79,"y":1.57,"Sig":"Down"},{"x":-0.63,"y":1.60,"Sig":"Down"},{"x":-1.91,"y":1.50,"Sig":"Down"},{"x":-1.57,"y":1.47,"Sig":"Down"},{"x":-1.26,"y":1.50,"Sig":"Down"},{"x":-0.97,"y":1.48,"Sig":"Down"},{"x":-0.72,"y":1.47,"Sig":"Down"},{"x":-0.92,"y":1.41,"Sig":"Down"},{"x":-1.23,"y":1.40,"Sig":"Down"},{"x":-1.06,"y":1.37,"Sig":"Down"},{"x":-0.85,"y":1.34,"Sig":"Down"},{"x":-0.67,"y":1.39,"Sig":"Down"},{"x":-0.63,"y":1.33,"Sig":"Down"},{"x":-0.97,"y":1.32,"Sig":"Down"},{"x":-0.75,"y":1.31,"Sig":"Down"},{"x":-0.62,"y":2.2,"Sig":"Down"},{"x":-0.61,"y":2.05,"Sig":"Down"},{"x":-0.64,"y":1.85,"Sig":"Down"},{"x":-0.66,"y":1.52,"Sig":"Down"},{"x":-0.70,"y":1.36,"Sig":"Down"},{"x":-0.60,"y":1.45,"Sig":"Down"},{"x":-0.78,"y":1.36,"Sig":"Down"},{"x":-0.88,"y":1.38,"Sig":"Down"},
{"x":0.94,"y":3.59,"Sig":"Up"},{"x":1.16,"y":3.06,"Sig":"Up"},{"x":1.15,"y":2.95,"Sig":"Up"},{"x":1.45,"y":2.74,"Sig":"Up"},{"x":1.35,"y":2.73,"Sig":"Up"},{"x":0.75,"y":2.63,"Sig":"Up"},{"x":0.65,"y":2.61,"Sig":"Up"},{"x":0.75,"y":2.52,"Sig":"Up"},{"x":1.13,"y":2.57,"Sig":"Up"},{"x":0.92,"y":2.49,"Sig":"Up"},{"x":1.18,"y":2.47,"Sig":"Up"},{"x":0.65,"y":2.47,"Sig":"Up"},{"x":0.74,"y":2.38,"Sig":"Up"},{"x":0.96,"y":2.35,"Sig":"Up"},{"x":1.08,"y":2.26,"Sig":"Up"},{"x":0.67,"y":2.32,"Sig":"Up"},{"x":0.85,"y":2.19,"Sig":"Up"},{"x":1.28,"y":2.16,"Sig":"Up"},{"x":0.67,"y":2.14,"Sig":"Up"},{"x":2.14,"y":2.06,"Sig":"Up"},{"x":1.42,"y":2.05,"Sig":"Up"},{"x":1.52,"y":1.98,"Sig":"Up"},{"x":1.15,"y":1.95,"Sig":"Up"},{"x":1.32,"y":1.88,"Sig":"Up"},{"x":1.54,"y":1.88,"Sig":"Up"},{"x":0.79,"y":1.85,"Sig":"Up"},{"x":0.72,"y":1.78,"Sig":"Up"},{"x":0.90,"y":1.72,"Sig":"Up"},{"x":1.09,"y":1.67,"Sig":"Up"},{"x":0.70,"y":1.67,"Sig":"Up"},{"x":0.67,"y":1.56,"Sig":"Up"},{"x":0.89,"y":1.54,"Sig":"Up"},{"x":1.62,"y":1.47,"Sig":"Up"},{"x":0.75,"y":1.48,"Sig":"Up"},{"x":1.11,"y":1.45,"Sig":"Up"},{"x":1.26,"y":1.39,"Sig":"Up"},{"x":1.42,"y":1.38,"Sig":"Up"},{"x":0.94,"y":1.35,"Sig":"Up"},{"x":1.21,"y":1.34,"Sig":"Up"},{"x":0.67,"y":1.40,"Sig":"Up"},{"x":0.85,"y":1.41,"Sig":"Up"},{"x":0.62,"y":2.2,"Sig":"Up"},{"x":0.63,"y":1.95,"Sig":"Up"},{"x":0.61,"y":1.62,"Sig":"Up"},{"x":0.62,"y":1.33,"Sig":"Up"},{"x":0.7,"y":1.33,"Sig":"Up"},{"x":0.8,"y":1.32,"Sig":"Up"}
]},
"layer":[
{"data":{"name":"pts"},"mark":{"type":"point","filled":true,"opacity":1,"size":11,"clip":true},
"encoding":{
"x":{"field":"x","type":"quantitative","scale":{"domain":[-6.09,7.76],"nice":false,"zero":false},
"axis":{"title":"log[2](FC)","values":[-4,0,4],"format":"d","grid":false,"domain":false,"tickColor":"#8a8a8a","tickSize":3,"labelPadding":2,"labelFontSize":10,"labelColor":"#4d4d4d","labelFont":"Liberation Sans","titleFont":"Liberation Sans","titleFontSize":12,"titleFontWeight":"normal","titleColor":"#000000","titlePadding":2}},
"y":{"field":"y","type":"quantitative","scale":{"domain":[-0.23,5.26],"nice":false,"zero":false},
"axis":{"title":"-log[10](PValue)","values":[0,1,2,3,4,5],"format":"d","grid":false,"domain":false,"tickColor":"#8a8a8a","tickSize":3,"labelPadding":2,"labelFontSize":10,"labelColor":"#4d4d4d","labelFont":"Liberation Sans","titleFont":"Liberation Sans","titleFontSize":12,"titleFontWeight":"normal","titleColor":"#000000","titlePadding":2}},
"color":{"field":"Sig","type":"nominal","scale":{"domain":["Down","NotSig","Up"],"range":["#00BA38","#619CFF","#F8766D"]},
"legend":{"title":"Sig","orient":"none","legendX":282,"legendY":133,"titleFontSize":11,"titleFontWeight":"normal","titleFont":"Liberation Sans","titleColor":"#000000","titlePadding":7,"labelFontSize":11,"labelFont":"Liberation Sans","labelColor":"#000000","symbolSize":8,"symbolType":"circle","symbolOffset":6,"labelOffset":9,"rowPadding":2}}
}},
{"data":{"values":[{"v":-0.585},{"v":0.585}]},"mark":{"type":"rule","color":"#000000","strokeDash":[4,3],"strokeWidth":1},
"encoding":{"x":{"field":"v","type":"quantitative"}}},
{"data":{"values":[{"h":1.301}]},"mark":{"type":"rule","color":"#000000","strokeDash":[4,3],"strokeWidth":1},
"encoding":{"y":{"field":"h","type":"quantitative"}}}
]
}
